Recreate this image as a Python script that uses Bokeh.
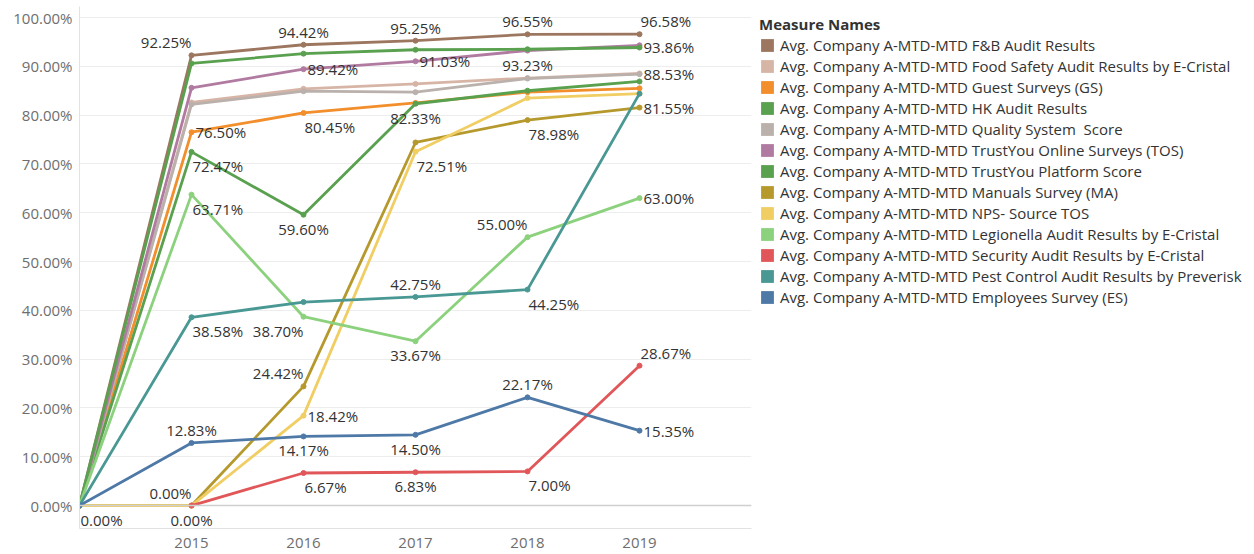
from bokeh.plotting import figure
from bokeh.models import (ColumnDataSource, Range1d, Legend, LegendItem, Span,
                          FixedTicker, PrintfTickFormatter)
from bokeh.embed import file_html
from bokeh.resources import INLINE
from bokeh.core.properties import value

NaN = float("nan")

# ---------------- data ----------------
years = [2014, 2015, 2016, 2017, 2018, 2019]
x_ticks = [2015, 2016, 2017, 2018, 2019]
y_ticks = [0, 10, 20, 30, 40, 50, 60, 70, 80, 90, 100]

series_names = [
    "Avg. Company A-MTD-MTD F&B Audit Results",
    "Avg. Company A-MTD-MTD Food Safety Audit Results by E-Cristal",
    "Avg. Company A-MTD-MTD Guest Surveys (GS)",
    "Avg. Company A-MTD-MTD HK Audit Results",
    "Avg. Company A-MTD-MTD Quality System  Score",
    "Avg. Company A-MTD-MTD TrustYou Online Surveys (TOS)",
    "Avg. Company A-MTD-MTD TrustYou Platform Score",
    "Avg. Company A-MTD-MTD Manuals Survey (MA)",
    "Avg. Company A-MTD-MTD NPS- Source TOS",
    "Avg. Company A-MTD-MTD Legionella Audit Results by E-Cristal",
    "Avg. Company A-MTD-MTD Security Audit Results by E-Cristal",
    "Avg. Company A-MTD-MTD Pest Control Audit Results by Preverisk",
    "Avg. Company A-MTD-MTD Employees Survey (ES)",
]
series_colors = ["#9d7660", "#d7b5a6", "#f28e2b", "#59a14f", "#bab0ac", "#b07aa1",
                 "#59a14f", "#b6992d", "#f1ce63", "#8cd17d", "#e15759", "#499894",
                 "#4e79a7"]

fb_audit = [0, 92.25, 94.42, 95.25, 96.55, 96.58]
food_safety = [0, 82.6, 85.4, 86.4, 87.6, 88.53]
guest_surveys = [0, 76.50, 80.45, 82.5, 84.7, 85.5]
hk_audit = [0, 72.47, 59.60, 82.33, 85.0, 86.9]
quality_system = [0, 82.2, 84.9, 84.7, 87.5, 88.4]
trustyou_online = [0, 85.6, 89.42, 91.03, 93.23, 94.3]
trustyou_platform = [0, 90.6, 92.6, 93.4, 93.5, 93.86]
manuals_survey = [0, 0.00, 24.42, 74.4, 78.98, 81.55]
nps_source = [0, 0.00, 18.42, 72.51, 83.5, 84.4]
legionella = [0, 63.71, 38.70, 33.67, 55.00, 63.00]
security = [NaN, 0.00, 6.67, 6.83, 7.00, 28.67]
pest_control = [0, 38.58, 41.7, 42.75, 44.25, 84.4]
employees = [0, 12.83, 14.17, 14.50, 22.17, 15.35]

series_values = [fb_audit, food_safety, guest_surveys, hk_audit, quality_system,
                 trustyou_online, trustyou_platform, manuals_survey, nps_source,
                 legionella, security, pest_control, employees]

# labelled marks: (series index, year index, placement)
labelled = [
    (0, 1, "ar"), (0, 2, "ac"), (0, 3, "ac"), (0, 4, "ac"), (0, 5, "al"),
    (5, 2, "r"), (5, 3, "r"), (5, 4, "bc"),
    (6, 5, "r"), (1, 5, "r"),
    (2, 1, "r"), (2, 2, "bl"),
    (3, 1, "bl"), (3, 2, "bc"), (3, 3, "bc"),
    (9, 1, "bl"), (9, 2, "br"), (9, 3, "bc"), (9, 4, "ar"), (9, 5, "r"),
    (8, 2, "r"), (8, 3, "bl"), (8, 1, "bc"),
    (7, 2, "ar"), (7, 4, "bl"), (7, 5, "r"), (7, 1, "ar"),
    (12, 0, "bl"), (12, 1, "ac"), (12, 2, "bc"), (12, 3, "bc"), (12, 4, "ac"), (12, 5, "r"),
    (10, 2, "bl"), (10, 3, "bc"), (10, 4, "bl"), (10, 5, "al"),
    (11, 1, "bl"), (11, 3, "ac"), (11, 4, "bl"),
]

# ---------------- figure ----------------
FONT = "Open Sans"
p = figure(frame_width=672, frame_height=522, output_backend="svg", toolbar_location=None,
           x_range=Range1d(2014, 2020), y_range=Range1d(-4.7, 102.26),
           min_border_left=79, min_border_top=6, min_border_right=0, min_border_bottom=26,
           background_fill_color="white", border_fill_color="white")
p.outline_line_color = None
p.xgrid.grid_line_color = None
p.ygrid.grid_line_color = "#ededed"
p.ygrid.grid_line_width = 1

p.yaxis.ticker = FixedTicker(ticks=y_ticks)
p.yaxis.formatter = PrintfTickFormatter(format="%.2f%%")
p.xaxis.ticker = FixedTicker(ticks=x_ticks)
p.xaxis.formatter = PrintfTickFormatter(format="%d")
for ax in (p.xaxis, p.yaxis):
    ax.axis_line_color = "#e2e2e2"
    ax.major_tick_line_color = None
    ax.minor_tick_line_color = None
    ax.major_tick_out = 0
    ax.major_label_text_font = FONT
    ax.major_label_text_font_size = "15px"
    ax.major_label_text_color = "#6e6e6e"
p.yaxis.major_label_standoff = 7
p.xaxis.major_label_standoff = 9

p.add_layout(Span(location=0, dimension="width", line_color="#cfcfcf", line_width=1.5))

for vals, col in zip(series_values, series_colors):
    src = ColumnDataSource(dict(x=years, y=vals))
    p.line("x", "y", source=src, line_color=col, line_width=2.8, line_join="round")
    p.scatter("x", "y", source=src, size=5, fill_color=col, line_color=col)

# ---------------- data labels ----------------
groups = {"left": dict(x=[], y=[], t=[], xo=[], yo=[]),
          "center": dict(x=[], y=[], t=[], xo=[], yo=[]),
          "right": dict(x=[], y=[], t=[], xo=[], yo=[])}
for si, yi, code in labelled:
    v = series_values[si][yi]
    if code == "r":
        align, xo, yo = "left", 4, 0
    else:
        yo = -13 if code[0] == "a" else 14
        align = {"l": "left", "c": "center", "r": "right"}[code[1]]
        xo = {"left": 1, "center": 0, "right": 0}[align]
    g = groups[align]
    g["x"].append(years[yi]); g["y"].append(v); g["t"].append("%.2f%%" % v)
    g["xo"].append(xo); g["yo"].append(yo)

for align, g in groups.items():
    p.text("x", "y", text="t", x_offset="xo", y_offset="yo",
           source=ColumnDataSource(g), text_align=align, text_baseline="middle",
           text_font=value(FONT), text_font_size="15px", text_color="#333333")

# ---------------- legend ----------------
items = []
for name, col in zip(series_names, series_colors):
    # off-screen swatch renderer, used only for the legend key
    r = p.quad(left=[2100], right=[2101], top=[1], bottom=[0],
               fill_color=col, line_color=None)
    items.append(LegendItem(label=name, renderers=[r]))

legend = Legend(items=items, location="top_left", title="Measure Names",
                title_text_font=FONT, title_text_font_style="bold",
                title_text_font_size="15px", title_text_color="#333333",
                title_standoff=0,
                label_text_font=FONT, label_text_font_size="15px",
                label_text_color="#333333",
                glyph_width=16, glyph_height=16, label_height=21,
                label_standoff=5, spacing=0, padding=3, margin=8,
                border_line_color=None, background_fill_alpha=0)
p.add_layout(legend, "right")

open("out.html", "w").write(file_html(p, INLINE))
